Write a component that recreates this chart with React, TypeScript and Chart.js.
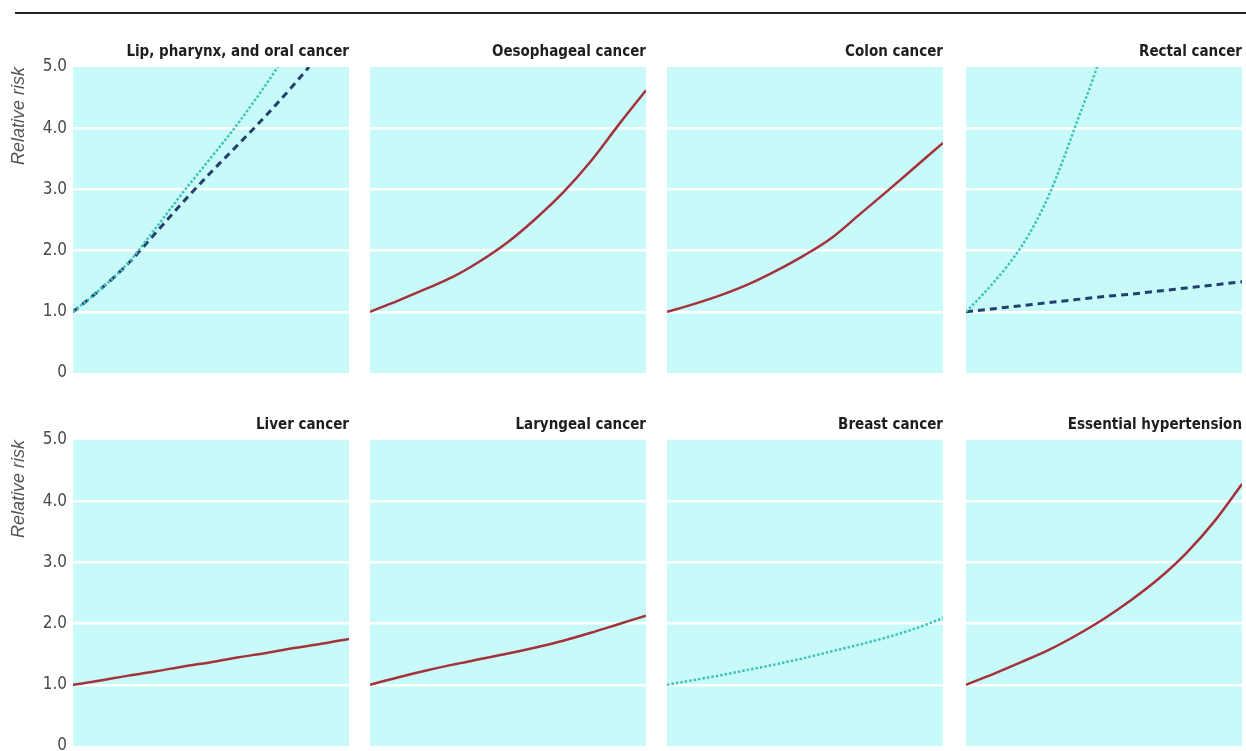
import React, { useEffect, useRef } from 'react';
import { Chart, registerables } from 'chart.js';
Chart.register(...registerables);

// ---- data (relative risk vs alcohol intake, x in arbitrary dose units 0-100) ----
const doses = [0, 10, 20, 30, 40, 50, 60, 70, 80, 90, 100];
const yTicks = [0, 1, 2, 3, 4, 5];

const lipDottedX = [0, 10, 20, 30, 40, 50, 60, 70, 74.2];
const lipDottedY = [1.0, 1.37, 1.8, 2.37, 2.96, 3.52, 4.09, 4.72, 5.0];
const lipDashedX = [0, 10, 20, 30, 40, 50, 60, 70, 80, 85.5];
const lipDashedY = [1.0, 1.37, 1.79, 2.29, 2.8, 3.28, 3.74, 4.21, 4.71, 5.0];
const oesophagealY = [1.0, 1.18, 1.37, 1.57, 1.83, 2.14, 2.52, 2.95, 3.46, 4.05, 4.62];
const colonY = [1.0, 1.13, 1.28, 1.46, 1.68, 1.93, 2.22, 2.6, 2.98, 3.37, 3.76];
const rectalDottedX = [0, 5, 10, 15, 20, 25, 30, 35, 40, 45, 47.5];
const rectalDottedY = [1.0, 1.23, 1.48, 1.75, 2.06, 2.44, 2.9, 3.46, 4.08, 4.68, 5.0];
const rectalDashedY = [1.0, 1.05, 1.1, 1.15, 1.2, 1.25, 1.29, 1.34, 1.39, 1.44, 1.49];
const liverY = [1.0, 1.07, 1.15, 1.22, 1.3, 1.37, 1.45, 1.52, 1.6, 1.67, 1.75];
const laryngealY = [1.0, 1.12, 1.23, 1.33, 1.42, 1.51, 1.61, 1.72, 1.85, 1.99, 2.13];
const breastY = [1.0, 1.08, 1.16, 1.25, 1.34, 1.44, 1.55, 1.66, 1.78, 1.92, 2.09];
const hypertensionY = [1.0, 1.18, 1.37, 1.57, 1.81, 2.08, 2.39, 2.74, 3.16, 3.67, 4.28];

const titles = [
  'Lip, pharynx, and oral cancer',
  'Oesophageal cancer',
  'Colon cancer',
  'Rectal cancer',
  'Liver cancer',
  'Laryngeal cancer',
  'Breast cancer',
  'Essential hypertension',
];

// ---- layout ----
const COL_LEFT = [73, 370, 667, 966];
const ROW_TOP = [67, 440];
const PANEL_W = 276;
const PANEL_H = 306;
const TITLE_H = 24;
const BOTTOM_PAD = 18;
const AXIS_W = 73;

const NARROW = "'Liberation Sans Narrow', 'DejaVu Sans Condensed', 'Liberation Sans', sans-serif";
const SANS = "'Liberation Sans', Arial, sans-serif";
const PANEL_BG = '#c9fafa';

type Style = 'solid' | 'dashed' | 'dotted';
type Series = { x: number[]; y: number[]; style: Style };

const panels: { title: string; series: Series[] }[] = [
  { title: titles[0], series: [
    { x: lipDottedX, y: lipDottedY, style: 'dotted' },
    { x: lipDashedX, y: lipDashedY, style: 'dashed' },
  ] },
  { title: titles[1], series: [{ x: doses, y: oesophagealY, style: 'solid' }] },
  { title: titles[2], series: [{ x: doses, y: colonY, style: 'solid' }] },
  { title: titles[3], series: [
    { x: rectalDottedX, y: rectalDottedY, style: 'dotted' },
    { x: doses, y: rectalDashedY, style: 'dashed' },
  ] },
  { title: titles[4], series: [{ x: doses, y: liverY, style: 'solid' }] },
  { title: titles[5], series: [{ x: doses, y: laryngealY, style: 'solid' }] },
  { title: titles[6], series: [{ x: doses, y: breastY, style: 'dotted' }] },
  { title: titles[7], series: [{ x: doses, y: hypertensionY, style: 'solid' }] },
];

function styleOf(s: Style) {
  if (s === 'solid') return { borderColor: '#a3323b', borderWidth: 2.5, borderDash: [] as number[] };
  if (s === 'dashed') return { borderColor: '#22406e', borderWidth: 3, borderDash: [7, 5] };
  return { borderColor: '#3fc2b9', borderWidth: 2.5, borderDash: [2.5, 2] };
}

const bgPlugin = {
  id: 'panelBg',
  beforeDraw(chart: any) {
    const { ctx, chartArea } = chart;
    ctx.save();
    ctx.fillStyle = PANEL_BG;
    ctx.fillRect(chartArea.left, chartArea.top, chartArea.right - chartArea.left, chartArea.bottom - chartArea.top);
    ctx.restore();
  },
};

function Panel({ index }: { index: number }) {
  const ref = useRef<HTMLCanvasElement>(null);
  const row = Math.floor(index / 4);
  const col = index % 4;
  const first = col === 0;
  const left = first ? 0 : COL_LEFT[col];
  const width = first ? COL_LEFT[0] + PANEL_W : PANEL_W;
  const top = ROW_TOP[row] - TITLE_H;
  const height = TITLE_H + PANEL_H + BOTTOM_PAD;

  useEffect(() => {
    const p = panels[index];
    const chart = new Chart(ref.current as HTMLCanvasElement, {
      type: 'line',
      data: {
        datasets: p.series.map((s) => ({
          data: s.x.map((x, i) => ({ x, y: s.y[i] })),
          ...styleOf(s.style),
          pointRadius: 0,
          fill: false,
          cubicInterpolationMode: 'monotone' as const,
          borderCapStyle: 'butt' as const,
        })),
      },
      options: {
        responsive: false,
        animation: false,
        devicePixelRatio: 1,
        layout: { padding: { top: 0, left: 0, right: 0, bottom: BOTTOM_PAD } },
        plugins: {
          legend: { display: false },
          tooltip: { enabled: false },
          title: {
            display: true,
            text: p.title,
            align: 'end',
            color: '#1e1e1e',
            font: { family: NARROW, size: 15, weight: 'bold' },
            padding: { top: 0, bottom: 6 },
          },
        },
        scales: {
          x: { type: 'linear', min: 0, max: 100, display: false },
          y: {
            type: 'linear',
            min: yTicks[0],
            max: yTicks[yTicks.length - 1],
            afterBuildTicks: (scale: any) => {
              scale.ticks = yTicks.map((v) => ({ value: v }));
            },
            afterFit: (scale: any) => {
              scale.width = first ? AXIS_W : 0;
            },
            ticks: {
              display: first,
              padding: 6,
              color: '#4a4a4a',
              font: { family: NARROW, size: 17 },
              callback: (v: any) => (Number(v) === 0 ? '0' : Number(v).toFixed(1)),
            },
            grid: {
              drawTicks: false,
              lineWidth: 2.5,
              color: (ctx: any) =>
                ctx.tick && ctx.tick.value > 0 && ctx.tick.value < 5 ? '#ffffff' : 'rgba(0,0,0,0)',
            },
            border: { display: false },
            title: {
              display: first,
              text: 'Relative risk',
              align: 'end',
              color: '#555555',
              font: { family: SANS, size: 18, style: 'italic' },
              padding: { top: 8, bottom: 0 },
            },
          },
        },
      },
      plugins: [bgPlugin],
    } as any);
    return () => chart.destroy();
  }, [index]);

  return (
    <canvas
      ref={ref}
      width={width}
      height={height}
      style={{ position: 'absolute', left, top, width, height }}
    />
  );
}

export default function App() {
  return (
    <div style={{ position: 'absolute', left: 0, top: 0, width: 1246, height: 751, background: '#ffffff', overflow: 'hidden' }}>
      <div style={{ position: 'absolute', left: 15, top: 12, width: 1231, height: 2, background: '#222222' }} />
      {panels.map((_, i) => (
        <Panel key={i} index={i} />
      ))}
    </div>
  );
}
